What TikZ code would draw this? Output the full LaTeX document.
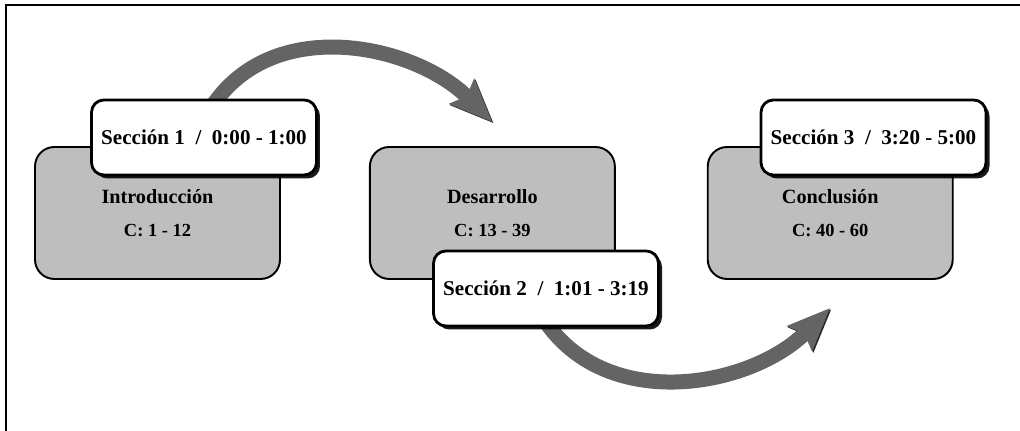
\documentclass[tikz,border=0pt]{standalone}
\usepackage{fontspec}
\setmainfont{Liberation Serif}
\usepackage{tikz}
\usetikzlibrary{positioning,arrows.meta,shadows,backgrounds}
\definecolor{boxgray}{RGB}{190,190,190}
\definecolor{arrgray}{RGB}{100,100,100}

\begin{document}
\begin{tikzpicture}[
		x=0.02cm,y=0.02cm,
		font=\bfseries\fontsize{11.5}{13}\selectfont,
		part/.style={draw,line width=1.1pt,rounded corners=11pt,fill=boxgray,minimum width=4.9cm,minimum height=2.64cm,align=center},
		sec/.style={draw,line width=1.6pt,rounded corners=7pt,fill=white,minimum width=4.5cm,minimum height=1.5cm,font=\bfseries\fontsize{12}{14}\selectfont,drop shadow={shadow xshift=2pt,shadow yshift=-2pt,fill=black,opacity=0.9}},
		ar/.style={line width=0.3cm,arrgray,-{Stealth[length=0.85cm,width=0.68cm,inset=0.12cm]},
			preaction={draw=black!85,transform canvas={shift={(0.7pt,-0.7pt)}}}}
		]

		\useasboundingbox (0,0) rectangle (1020,431);
		\draw[line width=1.1pt] (6,0) -- (6,426) -- (1020,426);

		\node[part] (intro) at (157.5,218) {Introducción\\[2mm]{\fontsize{10.5}{12}\selectfont C: 1 - 12}};
		\node[part,right=17.6mm of intro] (des) {Desarrollo\\[2mm]{\fontsize{10.5}{12}\selectfont C: 13 - 39}};
		\node[part,right=18.2mm of des] (con) {Conclusión\\[2mm]{\fontsize{10.5}{12}\selectfont C: 40 - 60}};

		\node[sec] (sec1) at (204,293.5) {Sección 1~~/~~0:00 - 1:00};
		\node[sec] (sec2) at (546,142.5) {Sección 2~~/~~1:01 - 3:19};
		\node[sec] (sec3) at (873.5,293.5) {Sección 3~~/~~3:20 - 5:00};

		\begin{scope}[on background layer]
		\draw[ar] ([xshift=0.2cm,yshift=-0.1cm]sec1.north) to[out=55,in=135] ([yshift=0.48cm]des.north);
		\draw[ar] ([yshift=0.1cm]sec2.south) to[out=-55,in=-135] ([yshift=-0.56cm]con.south);
		\end{scope}

	\end{tikzpicture}
\end{document}
